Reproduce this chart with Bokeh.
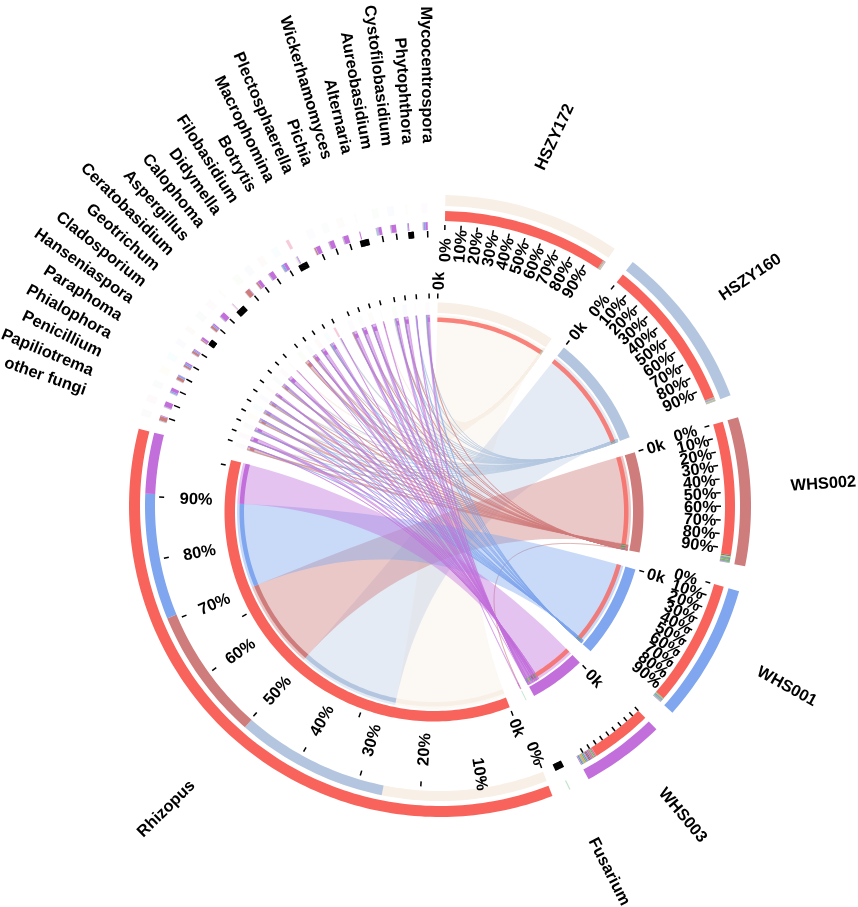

import math
from bokeh.plotting import figure
from bokeh.models import Range1d, ColumnDataSource
from bokeh.core.properties import value
from bokeh.embed import file_html
from bokeh.resources import INLINE

samples = ["HSZY172", "HSZY160", "WHS002", "WHS001", "WHS003"]
sample_colors = ["#F8EFE6", "#B4C6DF", "#CF7C7C", "#7FA6EE", "#C26FDC"]
rhizopus_values = [32.6, 30.0, 26.2, 24.8, 12.0]
rhizopus_color = "#F8645C"
fusarium_values = [0.0, 0.0, 0.02, 0.0, 0.05]
genera = ["other fungi", "Papiliotrema", "Penicillium", "Phialophora", "Paraphoma", "Hanseniaspora",
          "Cladosporium", "Geotrichum", "Ceratobasidium", "Aspergillus", "Calophoma", "Didymella",
          "Filobasidium", "Botrytis", "Macrophomina", "Plectosphaerella", "Pichia", "Wickerhamomyces",
          "Alternaria", "Aureobasidium", "Cystofilobasidium", "Phytophthora", "Mycocentrospora"]
genus_colors = ["#7F7F7F", "#E86FA0", "#4FAF5B", "#D8C82E", "#2FB5B5", "#8A5FD0", "#E0603A", "#3C9C80",
                "#D070B0", "#E0A030", "#7CBB4A", "#4C74C8", "#D85050", "#50B0D0", "#F6C6D6", "#9A78D8",
                "#60C070", "#E8A060", "#A088E0", "#80C060", "#6F8FDC", "#D0C040", "#B070D0"]
# values per genus: HSZY172, HSZY160, WHS002, WHS001, WHS003 (hundredths)
small_values = [
    [3, 4, 25, 3, 3], [2, 3, 2, 2, 30], [2, 4, 2, 8, 20], [2, 4, 18, 10, 3], [2, 4, 12, 10, 8],
    [2, 4, 14, 8, 5], [1, 3, 6, 2, 14], [2, 4, 14, 8, 8], [1, 3, 2, 2, 30], [8, 0, 0, 0, 3],
    [3, 3, 28, 2, 2], [2, 3, 10, 2, 20], [2, 3, 2, 2, 28], [2, 4, 3, 12, 18], [8, 6, 0, 0, 4],
    [2, 3, 8, 2, 26], [2, 3, 2, 2, 28], [2, 3, 2, 2, 30], [2, 0, 0, 0, 6], [2, 10, 2, 4, 18],
    [2, 3, 2, 2, 28], [1, 5, 0, 1, 5], [2, 4, 2, 10, 14],
]
genus_ring_alpha = [0.03] * 23
genus_ring_alpha[14] = 0.9
pct_labels = ["0%", "10%", "20%", "30%", "40%", "50%", "60%", "70%", "80%", "90%"]

# layout
CI = (433.5, 511.5)
CO = (439.5, 505.5)
sample_starts = [1.0, 38.3, 73.4, 105.9, 135.9]
fusarium_center = 153.9
rhizopus_start = 158.8
small_first = 288.9
small_pitch = [2.9, 3.0, 2.9, 2.9, 3.1, 3.0, 3.3, 2.9, 2.9, 4.0, 2.8, 3.0, 3.1, 2.9, 4.5, 3.0, 3.0, 3.0, 3.8, 2.9, 3.0, 3.4]
tick_blob = {6: 1.0, 9: 1.7, 14: 1.7, 18: 1.6, 21: 0.9}
genus_scale = 3.4
rhiz_label_r = [265, 271, 244, 244, 245, 246, 247, 246, 245, 244]
# name labels: polar place of the text centre around CO, and rotation
name_r = [386.5, 385.5, 384, 391, 393]
name_a = [17.1, 53.4, 86.5, 117.3, 141.7]
name_rot = [65, 34, 4, -29, -50]
fus_label = (403, 155, -63)
rhiz_label = (408, 222.3, 44.5)
genus_label_first, genus_label_last, genus_label_r = 289.4, 359.2, 369

def P(c, r, a):
    t = math.radians(a)
    return c[0] + r * math.sin(t), c[1] - r * math.cos(t)

def arc_pts(c, r, a0, a1):
    n = max(2, int(abs(a1 - a0) / 1.0) + 2)
    return [P(c, r, a0 + (a1 - a0) * i / (n - 1)) for i in range(n)]

def band(c, r0, r1, a0, a1):
    pts = arc_pts(c, r1, a0, a1) + arc_pts(c, r0, a1, a0)
    return [q[0] for q in pts], [q[1] for q in pts]

def bez(p0, p1, c):
    out = []
    for i in range(1, 30):
        t = i / 30
        out.append(((1-t)**2*p0[0] + 2*t*(1-t)*c[0] + t*t*p1[0], (1-t)**2*p0[1] + 2*t*(1-t)*c[1] + t*t*p1[1]))
    return out

def ribbon(c, r, a0, a1, b0, b1):
    A = arc_pts(c, r, a0, a1)
    B = arc_pts(c, r, b0, b1)
    pts = A + bez(A[-1], B[0], c) + B + bez(B[-1], A[0], c)
    return [q[0] for q in pts], [q[1] for q in pts]

p = figure(width=858, height=907, x_range=Range1d(0, 858), y_range=Range1d(907, 0),
           x_axis_type=None, y_axis_type=None, toolbar_location=None, output_backend="svg",
           min_border=0, outline_line_color=None, background_fill_color="white")
p.grid.visible = False
p.styles = {"position": "fixed", "left": "0px", "top": "0px"}

layers = {"xs": [], "ys": [], "c": [], "a": [], "lc": [], "la": [], "lw": []}
def add(xy, color, alpha=1.0, lc=None, la=0.0, lw=0.0):
    layers["xs"].append(xy[0]); layers["ys"].append(xy[1]); layers["c"].append(color); layers["a"].append(alpha)
    layers["lc"].append(lc or color); layers["la"].append(la); layers["lw"].append(lw)

ticks = {"x0": [], "y0": [], "x1": [], "y1": []}
def tick(c, r0, r1, a):
    q0, q1 = P(c, r0, a), P(c, r1, a)
    ticks["x0"].append(q0[0]); ticks["y0"].append(q0[1]); ticks["x1"].append(q1[0]); ticks["y1"].append(q1[1])

# sector widths
small_w = [sum(v) / 100 * genus_scale for v in small_values]
small_center = [small_first]
for d in small_pitch:
    small_center.append(small_center[-1] + d)
small_start = [small_center[i] - small_w[i] / 2 for i in range(23)]
fus_w = sum(fusarium_values) * genus_scale
fus_start = fusarium_center - fus_w / 2

sample_tail = [[rv[i] / 100 for rv in small_values] for i in range(5)]
sample_span = [rhizopus_values[i] + sum(sample_tail[i]) + fusarium_values[i] for i in range(5)]

# chords
rpos = rhizopus_start
gpos = list(small_start)
fpos = fus_start
stripes = []
comp = []
R_CH = 197
for i in range(5):
    a = sample_starts[i]
    v = rhizopus_values[i]
    alpha = 0.42 if i >= 2 else (0.35 if i == 1 else 0.45)
    add(ribbon(CI, R_CH, a, a + v, rpos, rpos + v), sample_colors[i], alpha)
    stripes.append((a, a + v, rhizopus_color, 0.8))
    stripes.append((rpos, rpos + v, sample_colors[i], 1.0))
    comp.append((CO, 285, 295, a, a + v, rhizopus_color))
    comp.append((CO, 285, 295, rpos, rpos + v, sample_colors[i]))
    a += v
    rpos += v
    for g in range(23):
        val = small_values[g][i] / 100
        if val <= 0:
            continue
        w = val * genus_scale
        col = sample_colors[i]
        add(ribbon(CI, R_CH, a, a + val, gpos[g], gpos[g] + w), col, 0.5, col, 0.6 if i else 1.0, 0.75)
        stripes.append((a, a + val, genus_colors[g], 1.0))
        stripes.append((gpos[g], gpos[g] + w, col, 1.0 if i else 0.5))
        comp.append((CO, 285, 295, a, a + val, genus_colors[g]))
        comp.append((CI, 282, 290, gpos[g], gpos[g] + w, col))
        a += val
        gpos[g] += w
    val = fusarium_values[i]
    if val > 0:
        w = val * genus_scale
        add(ribbon(CI, R_CH, a, a + val, fpos, fpos + w), sample_colors[i], 0.42, sample_colors[i], 0.55, 0.6)
        stripes.append((fpos, fpos + w, sample_colors[i], 1.0))
        fpos += w

# rings
for i in range(5):
    s, sp = sample_starts[i], sample_span[i]
    add(band(CI, 199, 209.5, s, s + sp), sample_colors[i])
    add(band(CO, 300, 311, s, s + sp), sample_colors[i])
rhiz_span = sum(rhizopus_values)
add(band(CI, 199, 209.5, rhizopus_start, rhizopus_start + rhiz_span), rhizopus_color)
add(band(CO, 300, 311, rhizopus_start, rhizopus_start + rhiz_span), rhizopus_color)
for g in range(23):
    add(band(CI, 199, 209.5, small_start[g], small_start[g] + small_w[g]), genus_colors[g], genus_ring_alpha[g])
    add(band(CI, 299, 309, small_start[g], small_start[g] + small_w[g]), genus_colors[g], genus_ring_alpha[g])
add(band(CI, 199, 209.5, fus_start, fus_start + fus_w), "#A8D8B0", 0.7)
add(band(CI, 299, 309, fus_start, fus_start + fus_w), "#A8D8B0", 0.7)
for a0, a1, col, al in stripes:
    add(band(CI, 190, 194.5, a0, a1), col, al)
for c, r0, r1, a0, a1, col in comp:
    add(band(c, r0, r1, a0, a1), col)

p.patches("xs", "ys", source=ColumnDataSource(layers), fill_color="c", fill_alpha="a",
          line_color="lc", line_alpha="la", line_width="lw")

# ticks
for i in range(5):
    s, sp = sample_starts[i], sample_span[i]
    tick(CI, 213.5, 218.5, s)
    for k in range(10):
        a = s + sp * k / 10
        if i == 4:
            tick(CO, 280, 285, a)
        else:
            tick(CO, 276, 281, a)
tick(CI, 213.5, 218.5, rhizopus_start)
for k in range(1, 4):
    tick(CI, 213.5, 218.5, rhizopus_start + 41.3 * k)
for k in range(10):
    tick(CO, 276, 281, rhizopus_start + rhiz_span * k / 10)
for g in range(23):
    a = small_center[g] + 0.5
    tick(CI, 213.5, 218.5, a)
    if g in tick_blob:
        for k in range(10):
            tick(CI, 274.5, 281, a - tick_blob[g] / 2 + tick_blob[g] * k / 9)
    else:
        tick(CI, 274.5, 281, a)
for k in range(10):
    tick(CI, 279, 286, fusarium_center - 0.8 + 1.6 * k / 9)
p.segment("x0", "y0", "x1", "y1", source=ColumnDataSource(ticks), line_color="black", line_width=1.5)

# text
def labels(items, size, align):
    if not items:
        return
    src = ColumnDataSource({"x": [t[0] for t in items], "y": [t[1] for t in items],
                            "t": [t[2] for t in items], "ang": [t[3] for t in items]})
    p.text("x", "y", text="t", angle="ang", angle_units="deg", source=src,
           text_font=value("Liberation Sans"), text_font_style="bold", text_color="black",
           text_font_size=size, text_align=align, text_baseline="middle")

def place(c, r, a, txt):
    x, y = P(c, r, a)
    if a % 360 < 180:
        return (x, y, txt, 90 - a)
    return (x, y, txt, 270 - a)

L = []
R = []
Cn = []
for i in range(5):
    s, sp = sample_starts[i], sample_span[i]
    R.append(place(CI, 222, s, "0k"))
    if i < 4:
        for k in range(10):
            rr = 244 + (0.7 * k if i == 3 else 0)
            R.append(place(CO, rr, s + sp * k / 10, pct_labels[k]))
    x, y = P(CO, name_r[i], name_a[i])
    Cn.append((x, y, samples[i], name_rot[i]))
R.append(place(CI, 222, rhizopus_start, "0k"))
for k in range(10):
    Cn.append(place(CO, rhiz_label_r[k], rhizopus_start + rhiz_span * k / 10, pct_labels[k]))
x, y = P(CO, fus_label[0], fus_label[1])
Cn.append((x, y, "Fusarium", fus_label[2]))
x, y = P(CO, rhiz_label[0], rhiz_label[1])
Cn.append((x, y, "Rhizopus", rhiz_label[2]))
for g in range(23):
    a = genus_label_first + (genus_label_last - genus_label_first) * g / 22
    L.append(place(CI, genus_label_r, a, genera[g]))
labels(L, "16.4px", "right")
labels(R, "16.4px", "left")
labels(Cn, "16.4px", "center")

open("out.html", "w").write(file_html(p, INLINE))
